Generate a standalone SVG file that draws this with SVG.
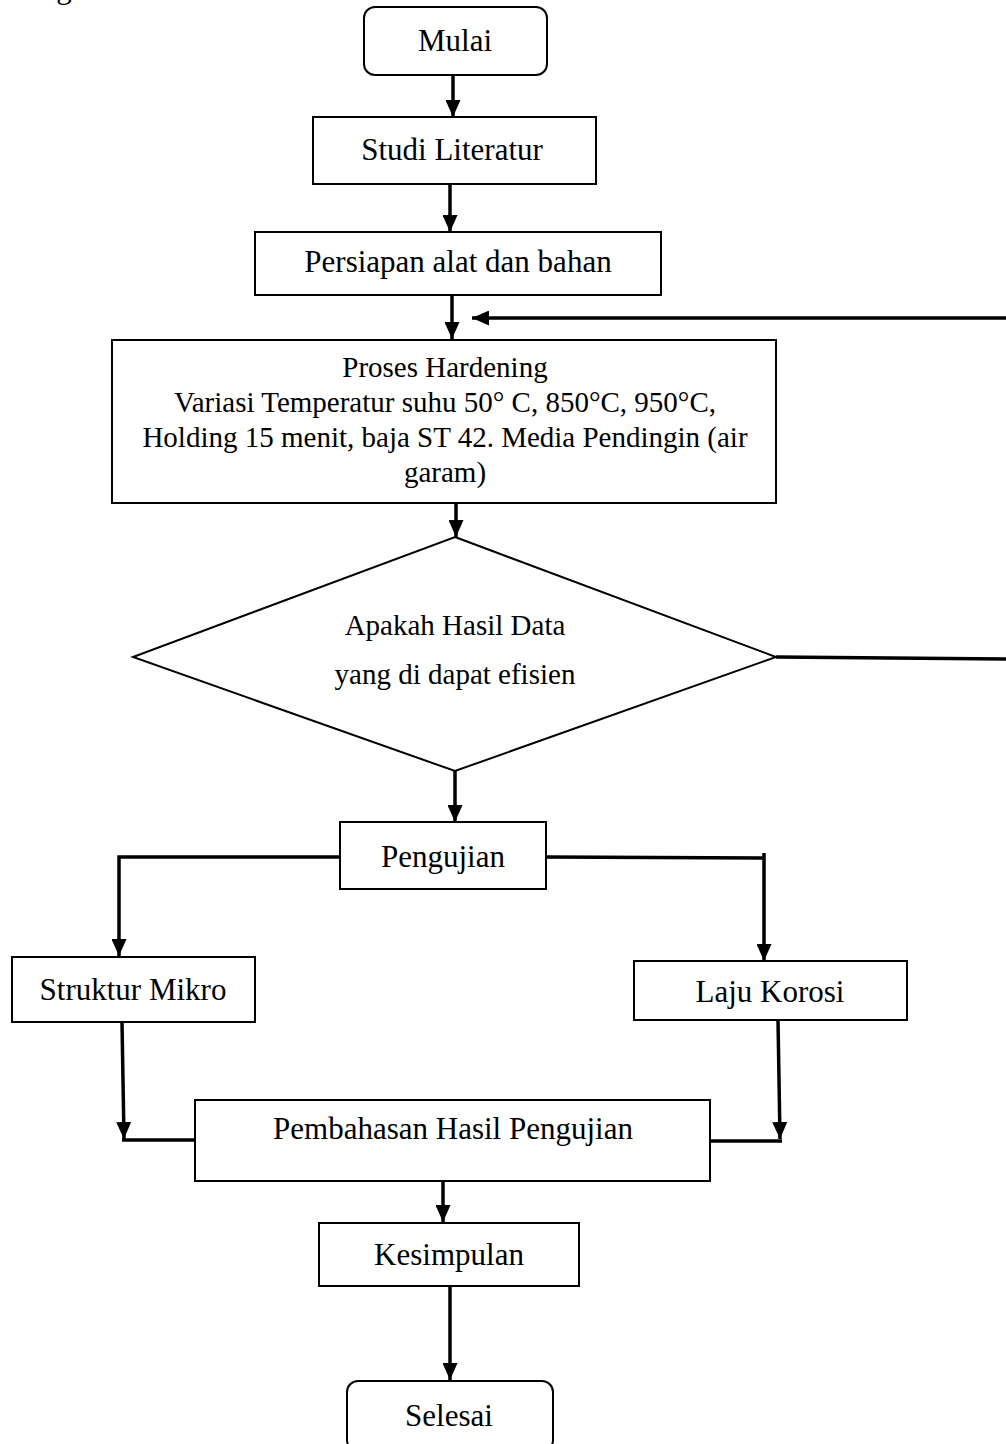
<svg xmlns="http://www.w3.org/2000/svg" width="1006" height="1444" viewBox="0 0 1006 1444">
<defs>
<style>
.box{fill:#fff;stroke:#000;stroke-width:2}
.t{font-family:"Liberation Serif","Times New Roman",serif;font-size:31px;fill:#000;text-anchor:middle}
.ts{font-family:"Liberation Serif","Times New Roman",serif;font-size:29px;fill:#000;text-anchor:middle}
.c{fill:none;stroke:#000;stroke-width:3.5}
</style>
<marker id="ah" viewBox="0 0 17 15" refX="17" refY="7.5" markerWidth="17" markerHeight="15" markerUnits="userSpaceOnUse" orient="auto">
<path d="M0,0 L17,7.5 L0,15 Z" fill="#000"/>
</marker>
</defs>
<rect width="1006" height="1444" fill="#fff"/>
<text class="t" x="64" y="-2">g</text>

<g id="connectors">
<path class="c" d="M453,75 V117" marker-end="url(#ah)"/>
<path class="c" d="M450,184 V232" marker-end="url(#ah)"/>
<path class="c" d="M452,295 V339" marker-end="url(#ah)"/>
<path class="c" d="M1010,318 H472" marker-end="url(#ah)"/>
<path class="c" d="M456,503 V537" marker-end="url(#ah)"/>
<path class="c" d="M776,657 L1010,659"/>
<path class="c" d="M455,771 V822" marker-end="url(#ah)"/>
<path class="c" d="M340,857 H119 V956" marker-end="url(#ah)"/>
<path class="c" d="M546,857 L764,858 M764,853 V961" marker-end="url(#ah)"/>
<path class="c" d="M122,1022 L124,1139" marker-end="url(#ah)"/>
<path class="c" d="M122,1140 H195"/>
<path class="c" d="M778,1020 L780,1139" marker-end="url(#ah)"/>
<path class="c" d="M710,1141 H782"/>
<path class="c" d="M443,1182 V1222" marker-end="url(#ah)"/>
<path class="c" d="M450,1286 V1380" marker-end="url(#ah)"/>
</g>

<g id="mulai">
<rect class="box" x="364" y="7" width="183" height="68" rx="11"/>
<text class="t" x="455" y="51">Mulai</text>
</g>
<g id="studi">
<rect class="box" x="313" y="117" width="283" height="67"/>
<text class="t" x="452" y="160">Studi Literatur</text>
</g>
<g id="persiapan">
<rect class="box" x="255" y="232" width="406" height="63"/>
<text class="t" x="458" y="272">Persiapan alat dan bahan</text>
</g>
<g id="proses">
<rect class="box" x="112" y="340" width="664" height="163"/>
<text class="ts" x="445" y="377">Proses Hardening</text>
<text class="ts" x="445" y="412">Variasi Temperatur suhu 50° C, 850°C, 950°C,</text>
<text class="ts" x="445" y="447">Holding 15 menit, baja ST 42. Media Pendingin (air</text>
<text class="ts" x="445" y="482">garam)</text>
</g>
<g id="keputusan">
<polygon class="box" points="455,537 776,657 455,771 133,657"/>
<text class="ts" x="455" y="635">Apakah Hasil Data</text>
<text class="ts" x="455" y="684">yang di dapat efisien</text>
</g>
<g id="pengujian">
<rect class="box" x="340" y="822" width="206" height="67"/>
<text class="t" x="443" y="867">Pengujian</text>
</g>
<g id="struktur">
<rect class="box" x="12" y="957" width="243" height="65"/>
<text class="t" x="133" y="1000">Struktur Mikro</text>
</g>
<g id="laju">
<rect class="box" x="634" y="961" width="273" height="59"/>
<text class="t" x="770" y="1002">Laju Korosi</text>
</g>
<g id="pembahasan">
<rect class="box" x="195" y="1100" width="515" height="81"/>
<text class="t" x="453" y="1139">Pembahasan Hasil Pengujian</text>
</g>
<g id="kesimpulan">
<rect class="box" x="319" y="1223" width="260" height="63"/>
<text class="t" x="449" y="1265">Kesimpulan</text>
</g>
<g id="selesai">
<rect class="box" x="347" y="1381" width="206" height="70" rx="11"/>
<text class="t" x="449" y="1426">Selesai</text>
</g>
</svg>
